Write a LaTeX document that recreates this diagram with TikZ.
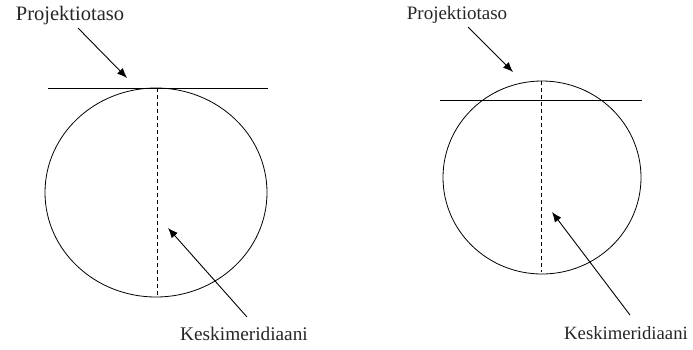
\documentclass[tikz,border=0pt]{standalone}
\usepackage{fontspec}
\setmainfont{Liberation Serif}
\usetikzlibrary{arrows.meta}
\begin{document}
\begin{tikzpicture}[x=1pt,y=-1pt,
  lbl/.style={inner sep=0pt, text=black!85},
  ptr/.style={line width=0.9pt, -{Latex[length=10pt,width=8pt]}},
  thin line/.style={line width=0.8pt},
  merid/.style={line width=0.8pt, dash pattern=on 4pt off 3pt}]
\useasboundingbox (0,0) rectangle (693,349);
% ---- left figure ----
\node[lbl, font=\fontsize{20.5}{22}\selectfont] (pL) at (70,16) {Projektiotaso};
\coordinate (pLt) at (78,28);
\coordinate (pLh) at (127,78);
\draw[ptr] (pLt) -- (pLh);
\coordinate (hL1) at (48,88);
\coordinate (hL2) at (268,88);
\draw[thin line] (hL1) -- (hL2);
\draw[thin line] (156,192.5) ellipse [x radius=111, y radius=104.5];
\coordinate (mLt) at (157,88);
\coordinate (mLb) at (157,297);
\draw[merid] (mLt) -- (mLb);
\node[lbl, font=\fontsize{19.3}{21}\selectfont] (kL) at (244,334) {Keskimeridiaani};
\coordinate (kLt) at (247,317);
\coordinate (kLh) at (168,228);
\draw[ptr] (kLt) -- (kLh);
% ---- right figure ----
\node[lbl, font=\fontsize{19}{21}\selectfont] (pR) at (457,15) {Projektiotaso};
\coordinate (pRt) at (468,27);
\coordinate (pRh) at (513,72);
\draw[ptr] (pRt) -- (pRh);
\coordinate (hR1) at (440,100);
\coordinate (hR2) at (642,100);
\draw[thin line] (hR1) -- (hR2);
\draw[thin line] (542,177.5) ellipse [x radius=99, y radius=96.5];
\coordinate (mRt) at (541,81);
\coordinate (mRb) at (541,272);
\draw[merid] (mRt) -- (mRb);
\node[lbl, font=\fontsize{18.7}{20}\selectfont] (kR) at (626,333) {Keskimeridiaani};
\coordinate (kRt) at (630,315);
\coordinate (kRh) at (552,212);
\draw[ptr] (kRt) -- (kRh);
\end{tikzpicture}
\end{document}
